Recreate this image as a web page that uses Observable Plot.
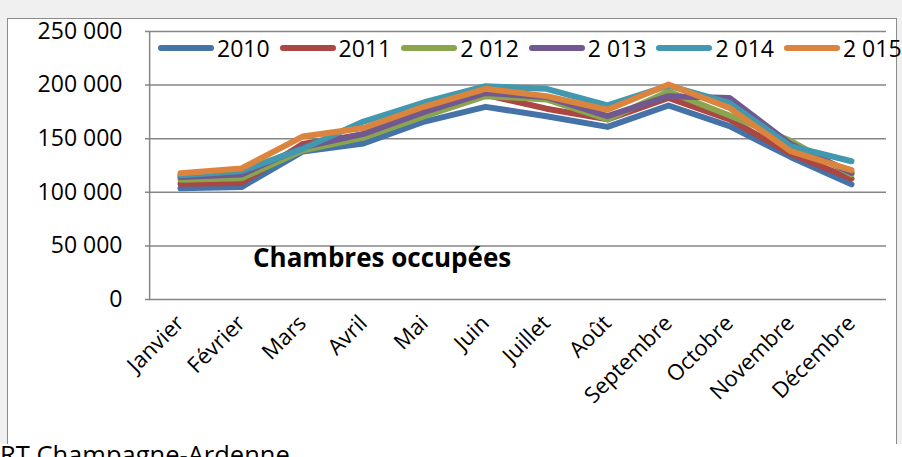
<!DOCTYPE html>
<html>
<head>
<meta charset="utf-8">
<script src="https://cdn.jsdelivr.net/npm/d3@7"></script>
<script src="https://cdn.jsdelivr.net/npm/@observablehq/plot@0.6"></script>
<style>
  html, body { margin: 0; padding: 0; }
  body { width: 902px; height: 457px; overflow: hidden; background: #f0f0f0; position: relative; font-family: "Open Sans", sans-serif; }
  #panel { position: absolute; left: 7px; top: 18px; width: 888px; height: 440px; background: #fff; border: 1px solid #8c8c8c; border-bottom: none; }
  #below { position: absolute; left: 0; top: 444px; width: 902px; height: 20px; background: #fff; }
  #chart { position: absolute; left: 0; top: 0; }
  #chart svg { background: transparent; overflow: visible; }
  #legend { position: absolute; left: 158px; top: 32px; width: max-content; display: flex; align-items: center; white-space: nowrap; font-size: 23px; color: #000; }
  #legend .item { display: flex; align-items: center; margin-right: 10px; flex-shrink: 0; }
  #legend .sw { width: 56px; height: 6px; border-radius: 3px; margin-right: 3px; flex-shrink: 0; }
  #title { position: absolute; left: 253px; top: 239px; font-size: 26px; font-weight: bold; color: #000; white-space: nowrap; }
  #source { position: absolute; left: 0px; top: 437px; font-size: 25.5px; color: #000; white-space: nowrap; }
</style>
</head>
<body>
<div id="panel"></div>
<div id="below"></div>
<div id="chart"></div>
<div id="legend"></div>
<div id="title">Chambres occupées</div>
<div id="source">RT Champagne-Ardenne</div>
<script>
const months = ["Janvier","Février","Mars","Avril","Mai","Juin","Juillet","Août","Septembre","Octobre","Novembre","Décembre"];
const seriesNames = ["2010","2011","2 012","2 013","2 014","2 015"];
const colors = ["#4572A7","#AA4643","#89A54E","#71588F","#4198AF","#DB843D"];
const yTicks = [0, 50000, 100000, 150000, 200000, 250000];

const v2010 = [103700,104900,138000,145500,166000,179700,171000,161000,181000,161700,133000,107400];
const v2011 = [108000,108600,145000,154000,176000,191000,178000,168000,188000,168000,136000,112700];
const v2012 = [111700,113000,139000,151000,171000,189700,186600,168000,194000,171700,148000,116700];
const v2013 = [114200,116700,142000,154500,175000,192700,189000,171000,189700,188000,145000,118200];
const v2014 = [115800,119800,140500,166000,184000,199000,196500,181000,199600,183400,143000,129000];
const v2015 = [117700,122300,152000,160000,180000,196500,189700,177000,200500,178800,138400,120700];
const allSeries = [v2010, v2011, v2012, v2013, v2014, v2015];

const data = [];
allSeries.forEach((vals, s) => vals.forEach((v, i) => data.push({series: seriesNames[s], month: months[i], value: v})));

const fr = d3.formatLocale({decimal: ",", thousands: " ", grouping: [3], currency: ["", " €"]});
const fmt = fr.format(",d");

const plotWidth = 902, mL = 145, mR = 16;
const halfStep = (plotWidth - mL - mR) / months.length / 2;

const chart = Plot.plot({
  width: plotWidth,
  height: 457,
  marginLeft: mL,
  marginRight: mR,
  marginTop: 31,
  marginBottom: 158,
  style: {fontFamily: "Open Sans", fontSize: "22px", color: "#000", background: "transparent"},
  x: {type: "point", domain: months, padding: 0.5, label: null},
  y: {domain: [0, 250000], label: null},
  color: {domain: seriesNames, range: colors},
  marks: [
    Plot.gridY(yTicks, {stroke: "#868686", strokeOpacity: 1, strokeWidth: 1.5}),
    Plot.ruleX([months[0]], {dx: -halfStep, y1: 0, y2: 250000, stroke: "#868686", strokeWidth: 1.5}),
    Plot.axisY(yTicks, {tickSize: 0, tickPadding: 23, tickFormat: fmt, fontSize: 23, label: null}),
    Plot.axisX({tickSize: 0, tickPadding: 20, tickRotate: -45, fontSize: 22, label: null}),
    Plot.line(data, {x: "month", y: "value", z: "series", stroke: "series", strokeWidth: 6, strokeLinejoin: "round", strokeLinecap: "round"})
  ]
});
document.getElementById("chart").appendChild(chart);

const legend = d3.select("#legend");
seriesNames.forEach((name, i) => {
  const item = legend.append("div").attr("class", "item");
  item.append("div").attr("class", "sw").style("background", colors[i]);
  item.append("span").text(name);
});
</script>
</body>
</html>
